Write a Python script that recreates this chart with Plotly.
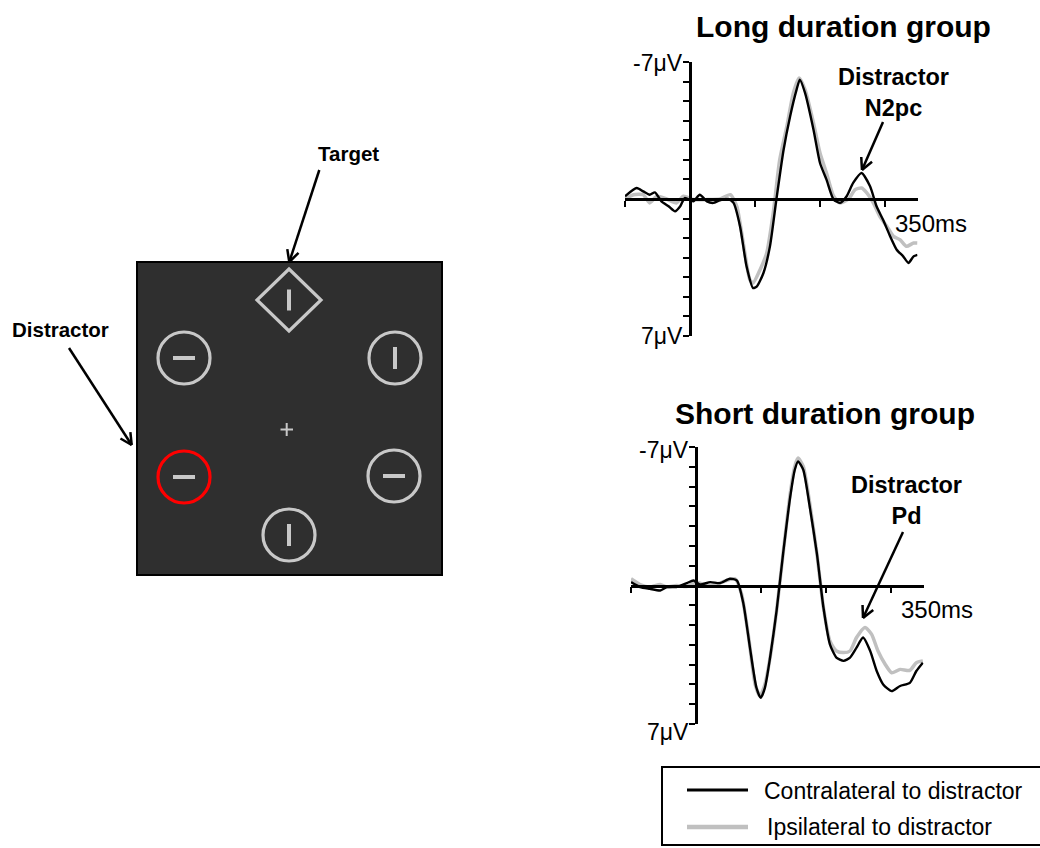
import math
import plotly.graph_objects as go

# ---------------- data ----------------
long_contra_ms = [-100, -82, -72, -62, -54, -44, -33, -23, -15, -8, 5, 15, 26, 36, 46, 59, 67, 77, 87, 97,
                  103, 113, 123, 133, 144, 154, 164, 169, 177, 190, 200, 210, 221, 231, 241, 251, 264, 277,
                  287, 297, 308, 318, 328, 336, 344, 350]
long_contra_uv = [-0.14, -0.56, -0.39, -0.22, -0.34, 0.12, 0.37, 0.63, 0.37, -0.05, 0.12, -0.22, 0.12, 0.2,
                  0.07, 0.0, 0.2, 1.4, 3.44, 4.55, 4.46, 3.78, 2.42, 0.0, -2.52, -4.22, -5.59, -6.1, -5.42,
                  -3.54, -1.84, -0.99, 0.03, 0.2, -0.14, -0.82, -1.33, -0.65, 0.37, 1.06, 1.91, 2.59, 2.93,
                  3.27, 2.93, 2.85]

long_ipsi_ms = [-100, -87, -72, -62, -51, -36, -21, -10, 5, 26, 46, 62, 72, 82, 92, 97, 108, 118, 128, 138,
                149, 159, 168, 177, 190, 200, 210, 221, 231, 244, 254, 264, 272, 282, 292, 303, 313, 323,
                333, 344, 350]
long_ipsi_uv = [0.0, -0.22, -0.22, 0.2, -0.14, 0.0, 0.2, -0.14, 0.03, 0.03, 0.0, -0.22, 0.37, 2.25, 4.12,
                4.29, 3.6, 2.76, 0.72, -2.0, -3.71, -5.42, -6.18, -5.59, -3.88, -2.35, -1.33, -0.14, 0.2,
                0.0, -0.48, -0.56, -0.31, 0.2, 0.89, 1.4, 1.91, 2.08, 2.42, 2.25, 2.25]

short_contra_ms = [-100, -86, -71, -55, -45, -30, -14, -4, 6, 22, 37, 52, 63, 73, 83, 93, 99.5, 106, 114,
                   124, 134, 145, 152, 157, 165, 175, 186, 196, 206, 216, 227, 237, 247, 257, 268, 278,
                   288, 301, 314, 329, 339, 349]
short_contra_uv = [-0.17, 0.08, 0.17, 0.25, 0.08, 0.08, -0.12, -0.25, -0.05, -0.17, -0.12, -0.34, -0.25,
                   0.93, 3.14, 5.17, 5.68, 5.17, 3.64, 1.27, -1.61, -4.49, -5.85, -6.27, -5.85, -3.98,
                   -1.61, 1.1, 2.97, 3.64, 3.81, 3.64, 3.14, 2.63, 3.31, 4.32, 5.0, 5.34, 5.08, 4.92,
                   4.32, 3.9]

short_ipsi_ms = [-100, -86, -71, -55, -45, -30, -14, 1, 16, 32, 47, 60, 70, 81, 91, 98.5, 106, 114, 124,
                 134, 145, 152, 157, 165, 175, 186, 196, 206, 216, 227, 237, 247, 260, 270, 280, 291, 301,
                 314, 329, 339, 349]
short_ipsi_uv = [-0.34, -0.05, 0.08, -0.05, 0.08, 0.0, 0.05, -0.17, 0.0, -0.08, -0.25, -0.34, 0.42, 2.63,
                 5.0, 5.59, 5.0, 3.64, 1.27, -1.61, -4.66, -6.02, -6.44, -6.02, -4.15, -1.61, 1.1, 2.8,
                 3.31, 3.39, 3.31, 2.63, 2.12, 2.46, 3.31, 3.98, 4.41, 4.24, 4.29, 3.9, 3.81]

x_ticks_ms = [-100, 0, 100, 200, 300]
y_ticks_uv = [-7, -6, -5, -4, -3, -2, -1, 0, 1, 2, 3, 4, 5, 6, 7]
series_names = ["Contralateral to distractor", "Ipsilateral to distractor"]
group_titles = ["Long duration group", "Short duration group"]

# ---------------- layout helpers (pixel -> paper) ----------------
W, H = 1040, 848
FONT = "Liberation Sans, Arial, sans-serif"
BLACK = "#000000"
GRAY = "#c0c0c0"
STIM = "#c8c8c8"


def px(x):
    return x / W


def py(y):
    return 1 - y / H


shapes = []
annotations = []


def line(x0, y0, x1, y1, color=BLACK, width=2.5):
    shapes.append(dict(type="line", xref="paper", yref="paper",
                       x0=px(x0), y0=py(y0), x1=px(x1), y1=py(y1),
                       line=dict(color=color, width=width), layer="above"))


def arrow(x0, y0, x1, y1, width=2.5, head=13, ang=27):
    line(x0, y0, x1, y1, width=width)
    a = math.atan2(y0 - y1, x0 - x1)
    for s in (-1, 1):
        b = a + s * math.radians(ang)
        line(x1, y1, x1 + head * math.cos(b), y1 + head * math.sin(b), width=width)


def text(x, y, t, size, bold=False, xanchor="center", yanchor="middle"):
    annotations.append(dict(xref="paper", yref="paper", x=px(x), y=py(y),
                            text=f"<b>{t}</b>" if bold else t, showarrow=False,
                            xanchor=xanchor, yanchor=yanchor,
                            font=dict(family=FONT, size=size, color=BLACK)))


fig = go.Figure()

# ---------------- ERP panels ----------------
panels = [
    dict(title=group_titles[0], data=(long_contra_ms, long_contra_uv, long_ipsi_ms, long_ipsi_uv),
         xl=625, xr=917.5, yaxis_x=690, ytop=62, ybot=336, yzero=199, title_xy=(843, 26)),
    dict(title=group_titles[1], data=(short_contra_ms, short_contra_uv, short_ipsi_ms, short_ipsi_uv),
         xl=631, xr=923.5, yaxis_x=696, ytop=447, ybot=724, yzero=585.5, title_xy=(825, 413)),
]

for i, p in enumerate(panels):
    k = "" if i == 0 else str(i + 1)
    cms, cuv, ims, iuv = p["data"]
    fig.add_trace(go.Scatter(x=ims, y=iuv, mode="lines", name=series_names[1], showlegend=False,
                             line=dict(color=GRAY, width=3.5, shape="spline", smoothing=0.6),
                             xaxis="x" + k, yaxis="y" + k))
    fig.add_trace(go.Scatter(x=cms, y=cuv, mode="lines", name=series_names[0], showlegend=False,
                             line=dict(color=BLACK, width=2.4, shape="spline", smoothing=0.6),
                             xaxis="x" + k, yaxis="y" + k))
    axis_common = dict(showgrid=False, zeroline=False, showline=True, linecolor=BLACK, linewidth=2.5,
                       ticks="outside", tickcolor=BLACK, tickwidth=2.2, ticklen=6,
                       showticklabels=False, anchor="free", fixedrange=True)
    fig.update_layout({
        "xaxis" + k: dict(axis_common, range=[-100, 350], domain=[px(p["xl"]), px(p["xr"])],
                          tickvals=x_ticks_ms, position=py(p["yzero"]), side="bottom"),
        "yaxis" + k: dict(axis_common, range=[7, -7], domain=[py(p["ybot"]), py(p["ytop"])],
                          tickvals=y_ticks_uv, position=px(p["yaxis_x"]), side="left"),
    })
    text(p["title_xy"][0], p["title_xy"][1], p["title"], 30, bold=True)
    text(p["yaxis_x"] - 5, p["ytop"] + (1 if i == 0 else 3), "-7μV", 23, xanchor="right")
    text(p["yaxis_x"] - 5, p["ybot"] + (0 if i == 0 else 8), "7μV", 23, xanchor="right")
    text(p["xr"] + 13, p["yzero"] + 24, "350ms", 24, xanchor="center")

# ERP component labels with arrows
text(893.5, 92.5, "Distractor<br>N2pc", 23.5, bold=True)
arrow(883, 122, 862, 170)
text(906, 500, "Distractor<br>Pd", 23.5, bold=True)
arrow(903, 532, 863, 618)

# ---------------- stimulus display ----------------
shapes.append(dict(type="rect", xref="paper", yref="paper", x0=px(137), x1=px(442), y0=py(575), y1=py(262),
                   fillcolor="#2f2f2f", line=dict(color=BLACK, width=2), layer="above"))


def circle(cx, cy, r=26, color=STIM):
    shapes.append(dict(type="circle", xref="paper", yref="paper", x0=px(cx - r), x1=px(cx + r),
                       y0=py(cy + r), y1=py(cy - r), line=dict(color=color, width=3.2), layer="above"))


def bar(cx, cy, vertical, half=11):
    if vertical:
        line(cx, cy - half, cx, cy + half, color=STIM, width=4)
    else:
        line(cx - half, cy, cx + half, cy, color=STIM, width=4)


circle(184, 358); bar(184, 358, False)
circle(395, 358); bar(395, 358, True)
circle(184, 477, color="#ff0000"); bar(184, 477, False)
circle(394, 476); bar(394, 476, False)
circle(289, 535); bar(289, 535, True)
# target diamond
shapes.append(dict(type="path", xref="paper", yref="paper",
                   path=f"M {px(289)} {py(269)} L {px(321)} {py(300)} L {px(289)} {py(331)} L {px(257)} {py(300)} Z",
                   line=dict(color=STIM, width=3.2), layer="above"))
bar(289, 300, True, half=10.5)
# fixation cross
line(280.5, 429.5, 293, 429.5, color=STIM, width=2)
line(286.7, 423, 286.7, 436, color=STIM, width=2)

text(348, 153, "Target", 20.5, bold=True)
arrow(319.3, 170, 289.3, 262)
text(60, 329, "Distractor", 20.5, bold=True)
arrow(69, 348, 131.7, 445)

# ---------------- legend box ----------------
shapes.append(dict(type="rect", xref="paper", yref="paper", x0=px(662), x1=px(1041), y0=py(845), y1=py(767),
                   line=dict(color=BLACK, width=2), fillcolor="rgba(0,0,0,0)", layer="above"))
line(687, 790, 748, 790, color=BLACK, width=3)
line(687, 827, 748, 827, color=GRAY, width=4.5)
text(762, 791, series_names[0], 23, xanchor="left")
text(765, 827, series_names[1], 23, xanchor="left")

fig.update_layout(width=W, height=H, margin=dict(l=0, r=0, t=0, b=0, pad=0),
                  paper_bgcolor="white", plot_bgcolor="white", showlegend=False,
                  shapes=shapes, annotations=annotations,
                  font=dict(family=FONT, color=BLACK))

fig.write_html("out.html")
